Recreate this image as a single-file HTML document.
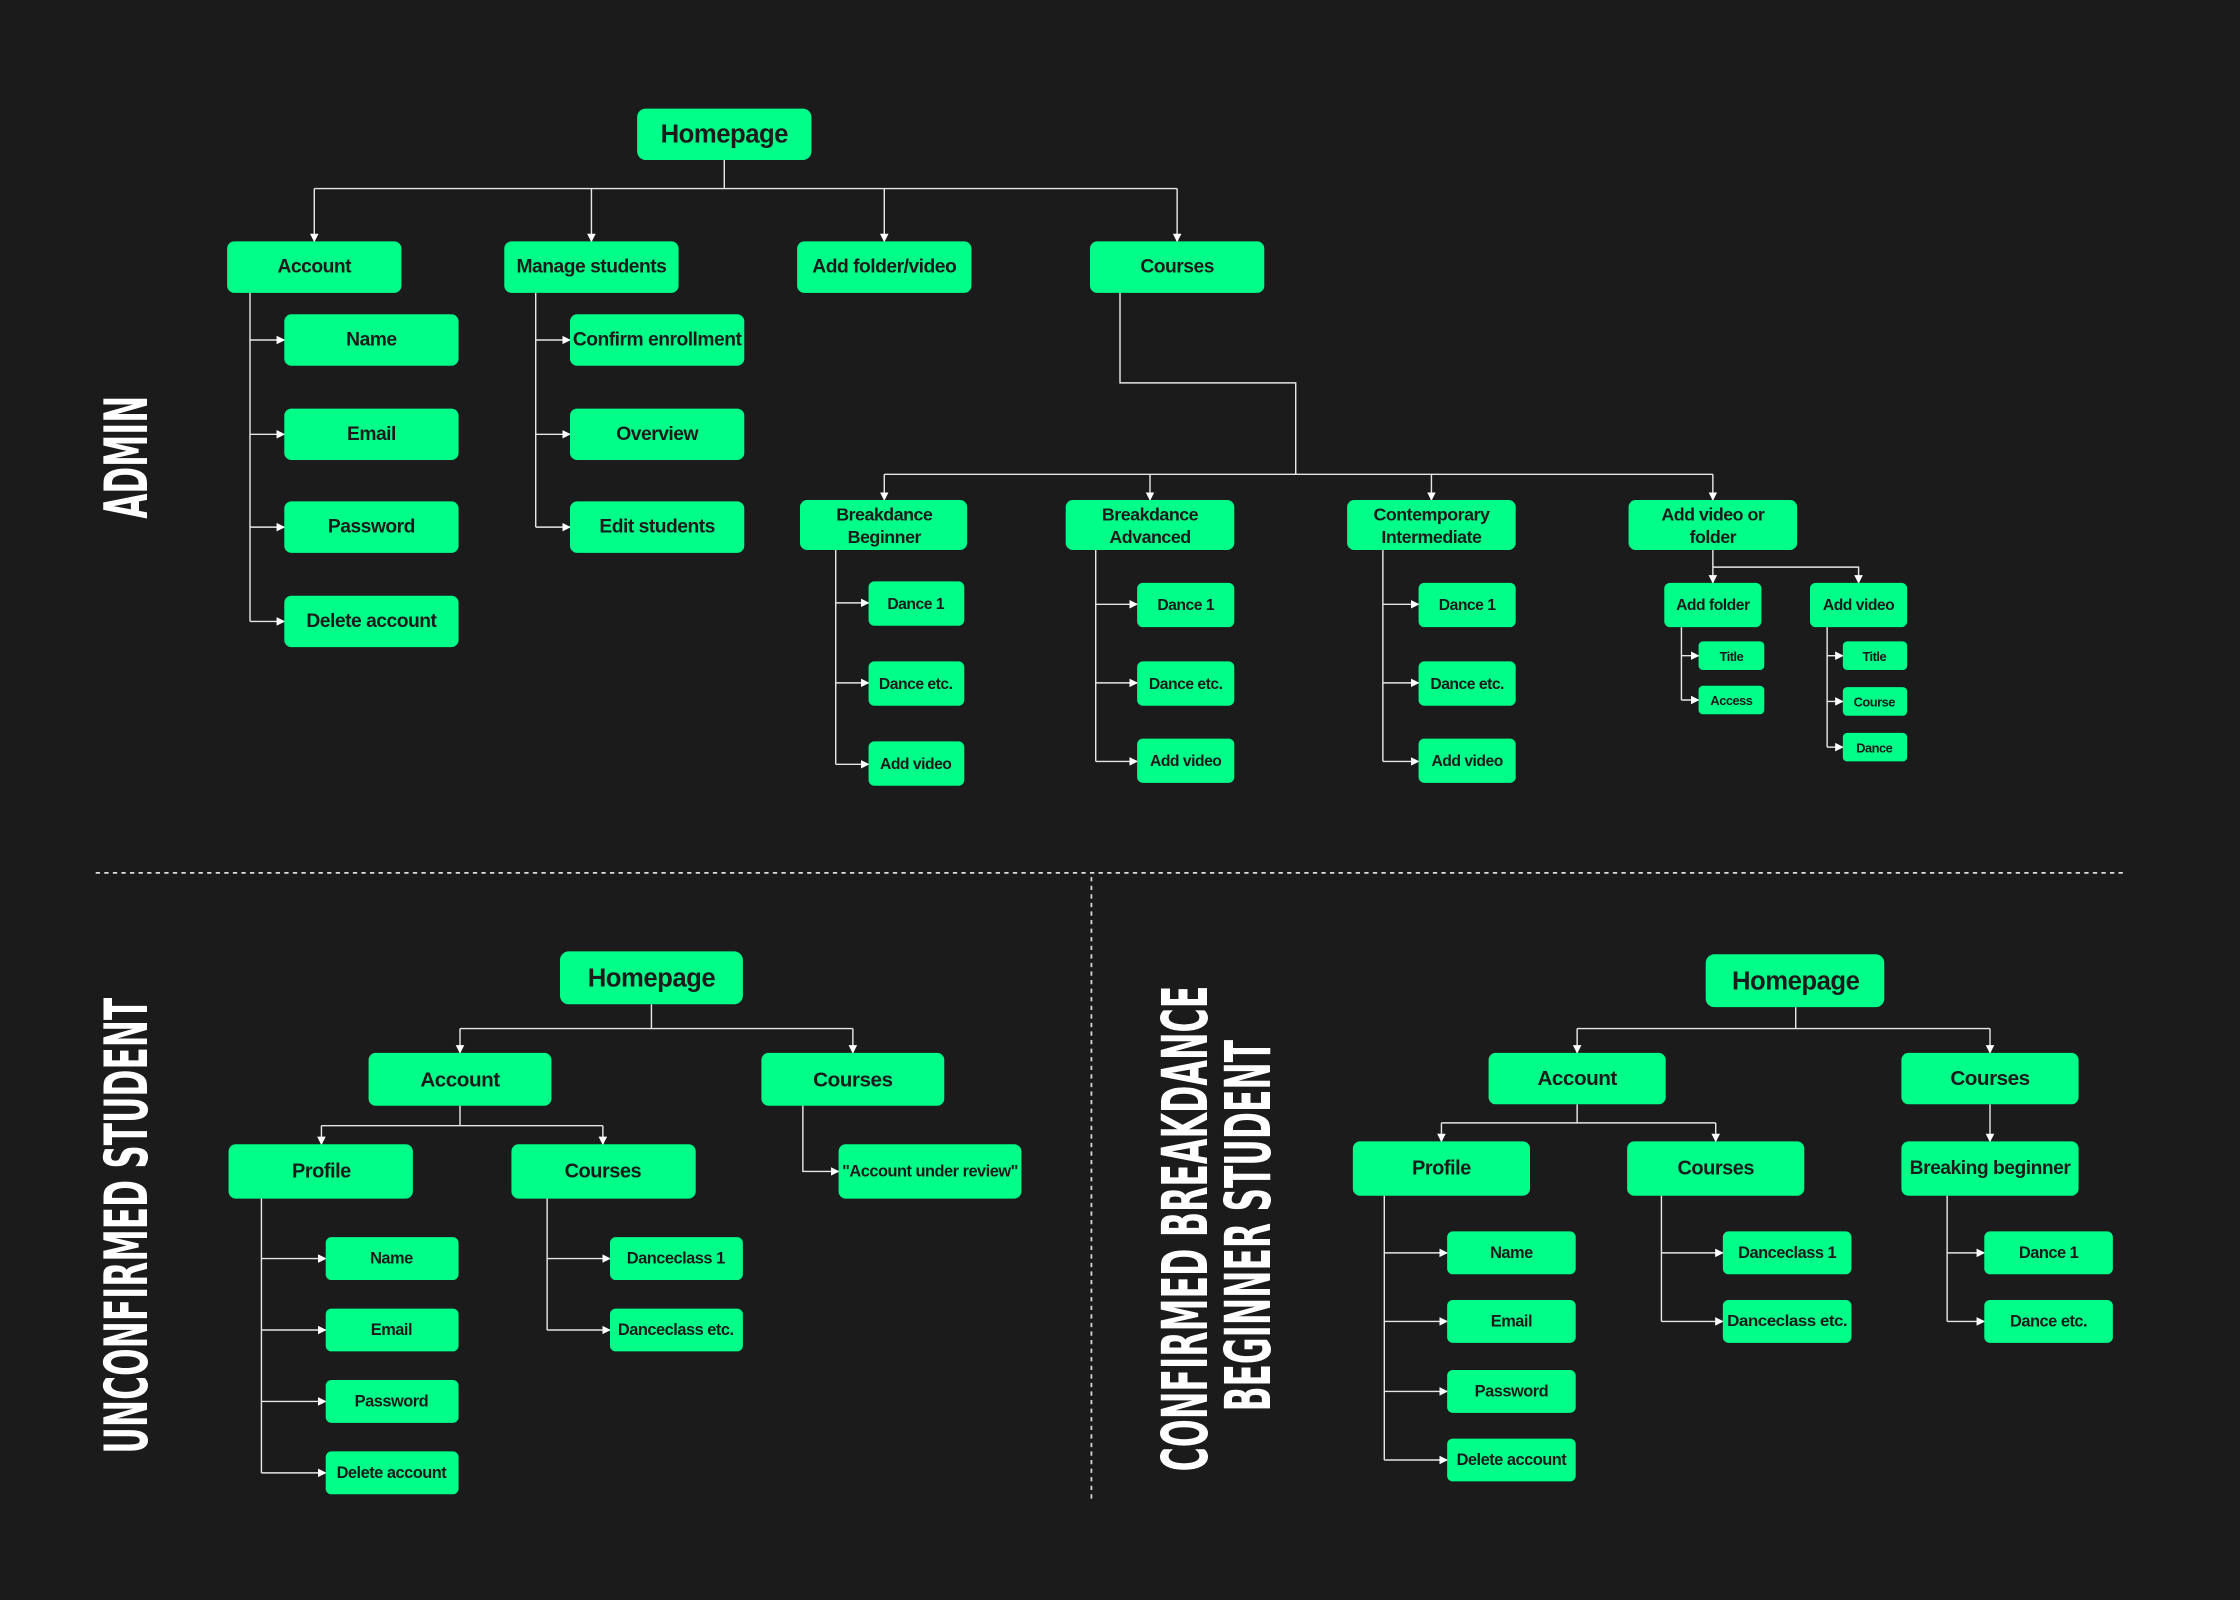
<!DOCTYPE html>
<html><head><meta charset="utf-8">
<style>
html,body{margin:0;padding:0;background:#1b1b1b;}
svg{display:block;}
.b{fill:#00ff88;}
.t{font-family:"Liberation Sans",sans-serif;font-weight:bold;fill:#1b1b1b;text-anchor:middle;dominant-baseline:central;letter-spacing:-0.35px;}
.l{fill:none;stroke:#e6e6e6;stroke-width:1;}
.h{font-family:"Liberation Sans Narrow","DejaVu Sans Condensed","Liberation Sans",sans-serif;font-weight:bold;fill:#ffffff;text-anchor:middle;dominant-baseline:central;}
</style></head>
<body>
<svg width="2240" height="1600" viewBox="0 0 1568 1120" xmlns="http://www.w3.org/2000/svg">
<defs><marker id="a" viewBox="0 0 10 10" refX="9" refY="5" markerWidth="6" markerHeight="6" orient="auto" markerUnits="userSpaceOnUse"><path d="M0,0L10,5L0,10z" fill="#fff"/></marker></defs>
<rect width="1568" height="1120" fill="#1b1b1b"/>

<text class="h" transform="translate(89,320) rotate(-90)" font-size="42" textLength="86" lengthAdjust="spacingAndGlyphs">ADMIN</text>
<text class="h" transform="translate(89,858) rotate(-90)" font-size="42" textLength="319" lengthAdjust="spacingAndGlyphs">UNCONFIRMED STUDENT</text>
<text class="h" transform="translate(830,860) rotate(-90)" font-size="44" textLength="340" lengthAdjust="spacingAndGlyphs">CONFIRMED BREAKDANCE</text>
<text class="h" transform="translate(874,858) rotate(-90)" font-size="44" textLength="260" lengthAdjust="spacingAndGlyphs">BEGINNER STUDENT</text>

<line x1="67" y1="611" x2="1487" y2="611" stroke="#ddd" stroke-width="1.2" stroke-dasharray="3,3"/>
<line x1="764" y1="614" x2="764" y2="1052" stroke="#ddd" stroke-width="1.2" stroke-dasharray="3,3"/>

<g class="l">
<path d="M507,112V132"/>
<path d="M220,132H824"/>
<path d="M220,132V169" marker-end="url(#a)"/>
<path d="M414,132V169" marker-end="url(#a)"/>
<path d="M619,132V169" marker-end="url(#a)"/>
<path d="M824,132V169" marker-end="url(#a)"/>
<path d="M175,205V435"/>
<path d="M175,238H199" marker-end="url(#a)"/>
<path d="M175,304H199" marker-end="url(#a)"/>
<path d="M175,369H199" marker-end="url(#a)"/>
<path d="M175,435H199" marker-end="url(#a)"/>
<path d="M375,205V369"/>
<path d="M375,238H399" marker-end="url(#a)"/>
<path d="M375,304H399" marker-end="url(#a)"/>
<path d="M375,369H399" marker-end="url(#a)"/>
<path d="M784,205V268H907V332"/>
<path d="M619,332H1199"/>
<path d="M619,332V350" marker-end="url(#a)"/>
<path d="M805,332V350" marker-end="url(#a)"/>
<path d="M1002,332V350" marker-end="url(#a)"/>
<path d="M1199,332V350" marker-end="url(#a)"/>
<path d="M585,385V535"/>
<path d="M585,422H608" marker-end="url(#a)"/>
<path d="M585,478H608" marker-end="url(#a)"/>
<path d="M585,535H608" marker-end="url(#a)"/>
<path d="M767,385V533"/>
<path d="M767,423H796" marker-end="url(#a)"/>
<path d="M767,478H796" marker-end="url(#a)"/>
<path d="M767,533H796" marker-end="url(#a)"/>
<path d="M968,385V533"/>
<path d="M968,423H993" marker-end="url(#a)"/>
<path d="M968,478H993" marker-end="url(#a)"/>
<path d="M968,533H993" marker-end="url(#a)"/>
<path d="M1199,385V408" marker-end="url(#a)"/>
<path d="M1199,397H1301V408" marker-end="url(#a)"/>
<path d="M1177,439V490"/>
<path d="M1177,459H1189" marker-end="url(#a)"/>
<path d="M1177,490H1189" marker-end="url(#a)"/>
<path d="M1279,439V523"/>
<path d="M1279,459H1290" marker-end="url(#a)"/>
<path d="M1279,491H1290" marker-end="url(#a)"/>
<path d="M1279,523H1290" marker-end="url(#a)"/>
</g>

<rect class="b" x="446" y="76" width="122" height="36" rx="6"/><text class="t" x="507" y="94" font-size="18">Homepage</text>
<rect class="b" x="159" y="169" width="122" height="36" rx="5"/><text class="t" x="220" y="187" font-size="13.5">Account</text>
<rect class="b" x="353" y="169" width="122" height="36" rx="5"/><text class="t" x="414" y="187" font-size="13.5">Manage students</text>
<rect class="b" x="558" y="169" width="122" height="36" rx="5"/><text class="t" x="619" y="187" font-size="13.5">Add folder/video</text>
<rect class="b" x="763" y="169" width="122" height="36" rx="5"/><text class="t" x="824" y="187" font-size="13.5">Courses</text>

<rect class="b" x="199" y="220" width="122" height="36" rx="5"/><text class="t" x="260" y="238" font-size="13.5">Name</text>
<rect class="b" x="199" y="286" width="122" height="36" rx="5"/><text class="t" x="260" y="304" font-size="13.5">Email</text>
<rect class="b" x="199" y="351" width="122" height="36" rx="5"/><text class="t" x="260" y="369" font-size="13.5">Password</text>
<rect class="b" x="199" y="417" width="122" height="36" rx="5"/><text class="t" x="260" y="435" font-size="13.5">Delete account</text>

<rect class="b" x="399" y="220" width="122" height="36" rx="5"/><text class="t" x="460" y="238" font-size="13.5" textLength="118" lengthAdjust="spacingAndGlyphs">Confirm enrollment</text>
<rect class="b" x="399" y="286" width="122" height="36" rx="5"/><text class="t" x="460" y="304" font-size="13.5">Overview</text>
<rect class="b" x="399" y="351" width="122" height="36" rx="5"/><text class="t" x="460" y="369" font-size="13.5">Edit students</text>

<rect class="b" x="560" y="350" width="117" height="35" rx="5"/><text class="t" x="619" y="360" font-size="12.5">Breakdance</text><text class="t" x="619" y="376" font-size="12.5">Beginner</text>
<rect class="b" x="746" y="350" width="118" height="35" rx="5"/><text class="t" x="805" y="360" font-size="12.5">Breakdance</text><text class="t" x="805" y="376" font-size="12.5">Advanced</text>
<rect class="b" x="943" y="350" width="118" height="35" rx="5"/><text class="t" x="1002" y="360" font-size="12.5">Contemporary</text><text class="t" x="1002" y="376" font-size="12.5">Intermediate</text>
<rect class="b" x="1140" y="350" width="118" height="35" rx="5"/><text class="t" x="1199" y="360" font-size="12.5">Add video or</text><text class="t" x="1199" y="376" font-size="12.5">folder</text>

<rect class="b" x="608" y="407" width="67" height="31" rx="4"/><text class="t" x="641" y="423" font-size="11">Dance 1</text>
<rect class="b" x="608" y="463" width="67" height="31" rx="4"/><text class="t" x="641" y="479" font-size="11">Dance etc.</text>
<rect class="b" x="608" y="519" width="67" height="31" rx="4"/><text class="t" x="641" y="535" font-size="11">Add video</text>

<rect class="b" x="796" y="408" width="68" height="31" rx="4"/><text class="t" x="830" y="424" font-size="11">Dance 1</text>
<rect class="b" x="796" y="463" width="68" height="31" rx="4"/><text class="t" x="830" y="479" font-size="11">Dance etc.</text>
<rect class="b" x="796" y="517" width="68" height="31" rx="4"/><text class="t" x="830" y="533" font-size="11">Add video</text>

<rect class="b" x="993" y="408" width="68" height="31" rx="4"/><text class="t" x="1027" y="424" font-size="11">Dance 1</text>
<rect class="b" x="993" y="463" width="68" height="31" rx="4"/><text class="t" x="1027" y="479" font-size="11">Dance etc.</text>
<rect class="b" x="993" y="517" width="68" height="31" rx="4"/><text class="t" x="1027" y="533" font-size="11">Add video</text>

<rect class="b" x="1165" y="408" width="68" height="31" rx="4"/><text class="t" x="1199" y="424" font-size="11">Add folder</text>
<rect class="b" x="1267" y="408" width="68" height="31" rx="4"/><text class="t" x="1301" y="424" font-size="11">Add video</text>
<rect class="b" x="1189" y="449" width="46" height="20" rx="3"/><text class="t" x="1212" y="459.5" font-size="9">Title</text>
<rect class="b" x="1189" y="480" width="46" height="20" rx="3"/><text class="t" x="1212" y="490.5" font-size="9">Access</text>
<rect class="b" x="1290" y="449" width="45" height="20" rx="3"/><text class="t" x="1312" y="459.5" font-size="9">Title</text>
<rect class="b" x="1290" y="481" width="45" height="20" rx="3"/><text class="t" x="1312" y="491.5" font-size="9">Course</text>
<rect class="b" x="1290" y="513" width="45" height="20" rx="3"/><text class="t" x="1312" y="523.5" font-size="9">Dance</text>

<g class="l">
<path d="M456,703V720"/>
<path d="M322,720H597"/>
<path d="M322,720V737" marker-end="url(#a)"/>
<path d="M597,720V737" marker-end="url(#a)"/>
<path d="M322,774V788"/>
<path d="M225,788H422"/>
<path d="M225,788V801" marker-end="url(#a)"/>
<path d="M422,788V801" marker-end="url(#a)"/>
<path d="M562,774V820H587" marker-end="url(#a)"/>
<path d="M183,839V1031"/>
<path d="M183,881H228" marker-end="url(#a)"/>
<path d="M183,931H228" marker-end="url(#a)"/>
<path d="M183,981H228" marker-end="url(#a)"/>
<path d="M183,1031H228" marker-end="url(#a)"/>
<path d="M383,839V931"/>
<path d="M383,881H427" marker-end="url(#a)"/>
<path d="M383,931H427" marker-end="url(#a)"/>
</g>
<rect class="b" x="392" y="666" width="128" height="37" rx="6"/><text class="t" x="456" y="685" font-size="18">Homepage</text>
<rect class="b" x="258" y="737" width="128" height="37" rx="5"/><text class="t" x="322" y="756" font-size="14.5">Account</text>
<rect class="b" x="533" y="737" width="128" height="37" rx="5"/><text class="t" x="597" y="756" font-size="14.5">Courses</text>
<rect class="b" x="160" y="801" width="129" height="38" rx="5"/><text class="t" x="225" y="820" font-size="14">Profile</text>
<rect class="b" x="358" y="801" width="129" height="38" rx="5"/><text class="t" x="422" y="820" font-size="14">Courses</text>
<rect class="b" x="587" y="801" width="128" height="38" rx="5"/><text class="t" x="651" y="820" font-size="11.5" textLength="123" lengthAdjust="spacingAndGlyphs">"Account under review"</text>
<rect class="b" x="228" y="866" width="93" height="30" rx="4"/><text class="t" x="274" y="881" font-size="11.5">Name</text>
<rect class="b" x="228" y="916" width="93" height="30" rx="4"/><text class="t" x="274" y="931" font-size="11.5">Email</text>
<rect class="b" x="228" y="966" width="93" height="30" rx="4"/><text class="t" x="274" y="981" font-size="11.5">Password</text>
<rect class="b" x="228" y="1016" width="93" height="30" rx="4"/><text class="t" x="274" y="1031" font-size="11.5">Delete account</text>
<rect class="b" x="427" y="866" width="93" height="30" rx="4"/><text class="t" x="473" y="881" font-size="11.5">Danceclass 1</text>
<rect class="b" x="427" y="916" width="93" height="30" rx="4"/><text class="t" x="473" y="931" font-size="11.5">Danceclass etc.</text>

<g class="l">
<path d="M1257,705V720"/>
<path d="M1104,720H1393"/>
<path d="M1104,720V737" marker-end="url(#a)"/>
<path d="M1393,720V737" marker-end="url(#a)"/>
<path d="M1104,773V786"/>
<path d="M1009,786H1201"/>
<path d="M1009,786V799" marker-end="url(#a)"/>
<path d="M1201,786V799" marker-end="url(#a)"/>
<path d="M1393,773V799" marker-end="url(#a)"/>
<path d="M969,837V1022"/>
<path d="M969,877H1013" marker-end="url(#a)"/>
<path d="M969,925H1013" marker-end="url(#a)"/>
<path d="M969,974H1013" marker-end="url(#a)"/>
<path d="M969,1022H1013" marker-end="url(#a)"/>
<path d="M1163,837V925"/>
<path d="M1163,877H1206" marker-end="url(#a)"/>
<path d="M1163,925H1206" marker-end="url(#a)"/>
<path d="M1363,837V925"/>
<path d="M1363,877H1389" marker-end="url(#a)"/>
<path d="M1363,925H1389" marker-end="url(#a)"/>
</g>
<rect class="b" x="1194" y="668" width="125" height="37" rx="6"/><text class="t" x="1257" y="687" font-size="18">Homepage</text>
<rect class="b" x="1042" y="737" width="124" height="36" rx="5"/><text class="t" x="1104" y="755" font-size="14.5">Account</text>
<rect class="b" x="1331" y="737" width="124" height="36" rx="5"/><text class="t" x="1393" y="755" font-size="14.5">Courses</text>
<rect class="b" x="947" y="799" width="124" height="38" rx="5"/><text class="t" x="1009" y="818" font-size="14">Profile</text>
<rect class="b" x="1139" y="799" width="124" height="38" rx="5"/><text class="t" x="1201" y="818" font-size="14">Courses</text>
<rect class="b" x="1331" y="799" width="124" height="38" rx="5"/><text class="t" x="1393" y="818" font-size="13.5">Breaking beginner</text>
<rect class="b" x="1013" y="862" width="90" height="30" rx="4"/><text class="t" x="1058" y="877" font-size="11.5">Name</text>
<rect class="b" x="1013" y="910" width="90" height="30" rx="4"/><text class="t" x="1058" y="925" font-size="11.5">Email</text>
<rect class="b" x="1013" y="959" width="90" height="30" rx="4"/><text class="t" x="1058" y="974" font-size="11.5">Password</text>
<rect class="b" x="1013" y="1007" width="90" height="30" rx="4"/><text class="t" x="1058" y="1022" font-size="11.5">Delete account</text>
<rect class="b" x="1206" y="862" width="90" height="30" rx="4"/><text class="t" x="1251" y="877" font-size="11.5">Danceclass 1</text>
<rect class="b" x="1206" y="910" width="90" height="30" rx="4"/><text class="t" x="1251" y="925" font-size="11" textLength="84" lengthAdjust="spacingAndGlyphs">Danceclass etc.</text>
<rect class="b" x="1389" y="862" width="90" height="30" rx="4"/><text class="t" x="1434" y="877" font-size="11.5">Dance 1</text>
<rect class="b" x="1389" y="910" width="90" height="30" rx="4"/><text class="t" x="1434" y="925" font-size="11.5">Dance etc.</text>
</svg>
</body></html>
